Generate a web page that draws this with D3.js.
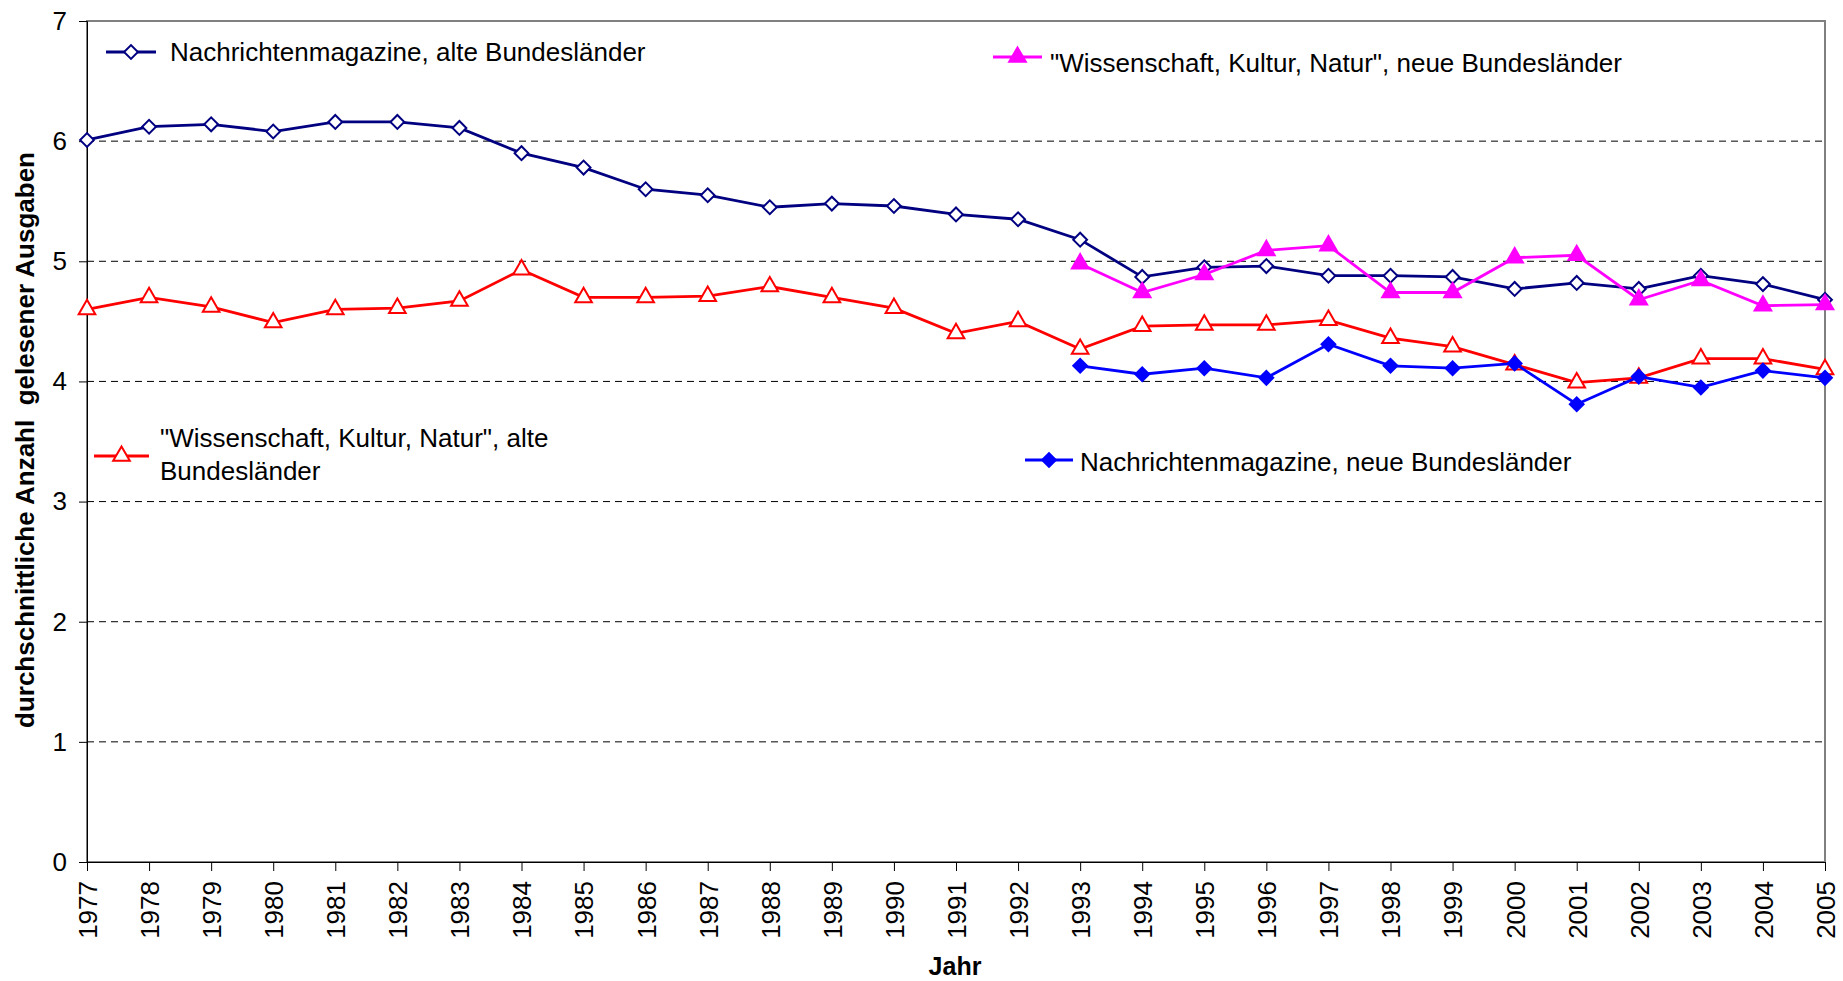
<!DOCTYPE html>
<html>
<head>
<meta charset="utf-8">
<script src="https://cdn.jsdelivr.net/npm/d3@7"></script>
<style>
  body { margin: 0; background: #fff; }
  text { font-family: "Liberation Sans", Arial, sans-serif; }
</style>
</head>
<body>
<svg width="1843" height="981"></svg>
<script>
// The data
var years = d3.range(1977, 2006);
var yTicks = [0, 1, 2, 3, 4, 5, 6, 7];

var nachrichtenAlt = [6.01, 6.12, 6.14, 6.08, 6.16, 6.16, 6.11, 5.90, 5.78, 5.60,
    5.55, 5.45, 5.48, 5.46, 5.39, 5.35, 5.18, 4.87, 4.95, 4.96,
    4.88, 4.88, 4.87, 4.77, 4.82, 4.77, 4.88, 4.81, 4.68];
var wissenAlt = [4.60, 4.70, 4.62, 4.49, 4.60, 4.61, 4.67, 4.93, 4.70, 4.70,
    4.71, 4.79, 4.70, 4.61, 4.40, 4.50, 4.27, 4.46, 4.47, 4.47,
    4.51, 4.36, 4.29, 4.14, 3.99, 4.03, 4.19, 4.19, 4.10];
var wissenNeu = [null, null, null, null, null, null, null, null, null, null,
    null, null, null, null, null, null, 4.98, 4.74, 4.89, 5.09,
    5.13, 4.74, 4.74, 5.03, 5.05, 4.68, 4.84, 4.63, 4.64];
var nachrichtenNeu = [null, null, null, null, null, null, null, null, null, null,
    null, null, null, null, null, null, 4.13, 4.06, 4.11, 4.03,
    4.31, 4.13, 4.11, 4.15, 3.81, 4.04, 3.95, 4.09, 4.03];

var svg = d3.select("svg");
var plotLeft = 87, plotRight = 1825, plotTop = 21, plotBottom = 862;

var x = d3.scaleLinear().domain([1977, 2005]).range([plotLeft, plotRight]);
var y = d3.scaleLinear().domain([0, 7]).range([plotBottom, plotTop]);

// Grid lines
svg.append("g")
    .selectAll("line")
    .data(yTicks.filter(function (d) { return d > 0 && d < 7; }))
    .enter().append("line")
    .attr("x1", plotLeft).attr("x2", plotRight)
    .attr("y1", function (d) { return y(d); })
    .attr("y2", function (d) { return y(d); })
    .attr("stroke", "#000")
    .attr("stroke-width", 1)
    .attr("stroke-dasharray", "7,5");

// Plot area border
svg.append("rect")
    .attr("x", plotLeft).attr("y", plotTop)
    .attr("width", plotRight - plotLeft).attr("height", plotBottom - plotTop)
    .attr("fill", "none")
    .attr("stroke", "#808080")
    .attr("stroke-width", 2);

// Axes
var yAxis = d3.axisLeft(y).tickValues(yTicks).tickSize(8).tickPadding(12)
    .tickFormat(d3.format("d"));
var gy = svg.append("g").attr("transform", "translate(" + plotLeft + ",0)").call(yAxis);
gy.select(".domain").attr("stroke", "#000").attr("stroke-width", 1);
gy.selectAll("text").style("font-size", "26px").attr("fill", "#000");

var xAxis = d3.axisBottom(x).tickValues(years).tickSize(9).tickFormat(d3.format("d"));
var gx = svg.append("g").attr("transform", "translate(0," + plotBottom + ")").call(xAxis);
gx.select(".domain").attr("stroke", "#000").attr("stroke-width", 1);
gx.selectAll("text")
    .style("font-size", "26px")
    .attr("fill", "#000")
    .attr("text-anchor", "end")
    .attr("transform", "rotate(-90)")
    .attr("x", -19)
    .attr("y", 0)
    .attr("dy", "0.36em");

// Axis titles
svg.append("text")
    .attr("transform", "translate(34,440) rotate(-90)")
    .attr("text-anchor", "middle")
    .style("font-size", "26px")
    .style("font-weight", "bold")
    .style("white-space", "pre")
    .text("durchschnittliche Anzahl  gelesener Ausgaben");

svg.append("text")
    .attr("x", 955).attr("y", 975)
    .attr("text-anchor", "middle")
    .style("font-size", "25px")
    .style("font-weight", "bold")
    .text("Jahr");

// Series
var diamond = d3.symbol().type(d3.symbolSquare).size(95);
var triangle = d3.symbol().type(d3.symbolTriangle).size(120);

var series = [
    {name: "nachrichtenAlt", values: nachrichtenAlt, color: "#000080", shape: diamond, rot: 45, filled: false},
    {name: "wissenAlt", values: wissenAlt, color: "#ff0000", shape: triangle, rot: 0, filled: false},
    {name: "wissenNeu", values: wissenNeu, color: "#ff00ff", shape: triangle, rot: 0, filled: true},
    {name: "nachrichtenNeu", values: nachrichtenNeu, color: "#0000ff", shape: diamond, rot: 45, filled: true}
];

var line = d3.line()
    .defined(function (d) { return d[1] != null; })
    .x(function (d) { return x(d[0]); })
    .y(function (d) { return y(d[1]); });

series.forEach(function (s) {
    var pts = years.map(function (yr, i) { return [yr, s.values[i]]; });
    svg.append("path")
        .datum(pts)
        .attr("d", line)
        .attr("fill", "none")
        .attr("stroke", s.color)
        .attr("stroke-width", 2.8);
    svg.append("g")
        .selectAll("path")
        .data(pts.filter(function (d) { return d[1] != null; }))
        .enter().append("path")
        .attr("d", s.shape)
        .attr("transform", function (d) {
            return "translate(" + x(d[0]) + "," + y(d[1]) + ") rotate(" + s.rot + ")";
        })
        .attr("fill", s.filled ? s.color : "#fff")
        .attr("stroke", s.color)
        .attr("stroke-width", 2);
});

// Legend entries
var legends = [
    {s: 0, x1: 106, x2: 156, ly: 52, tx: 170, lines: ["Nachrichtenmagazine, alte Bundesländer"], ty: 52},
    {s: 2, x1: 993, x2: 1042, ly: 57, tx: 1050, lines: ["\"Wissenschaft, Kultur, Natur\", neue Bundesländer"], ty: 63},
    {s: 1, x1: 94, x2: 149, ly: 456, tx: 160, lines: ["\"Wissenschaft, Kultur, Natur\", alte", "Bundesländer"], ty: 438},
    {s: 3, x1: 1025, x2: 1073, ly: 460, tx: 1080, lines: ["Nachrichtenmagazine, neue Bundesländer"], ty: 462}
];

legends.forEach(function (l) {
    var s = series[l.s];
    var g = svg.append("g");
    g.append("line")
        .attr("x1", l.x1).attr("x2", l.x2)
        .attr("y1", l.ly).attr("y2", l.ly)
        .attr("stroke", s.color)
        .attr("stroke-width", 2.8);
    g.append("path")
        .attr("d", s.shape)
        .attr("transform", "translate(" + ((l.x1 + l.x2) / 2) + "," + l.ly + ") rotate(" + s.rot + ")")
        .attr("fill", s.filled ? s.color : "#fff")
        .attr("stroke", s.color)
        .attr("stroke-width", 2);
    l.lines.forEach(function (t, i) {
        g.append("text")
            .attr("x", l.tx)
            .attr("y", l.ty + i * 33)
            .attr("dy", "0.35em")
            .style("font-size", "26px")
            .attr("fill", "#000")
            .text(t);
    });
});
</script>
</body>
</html>
